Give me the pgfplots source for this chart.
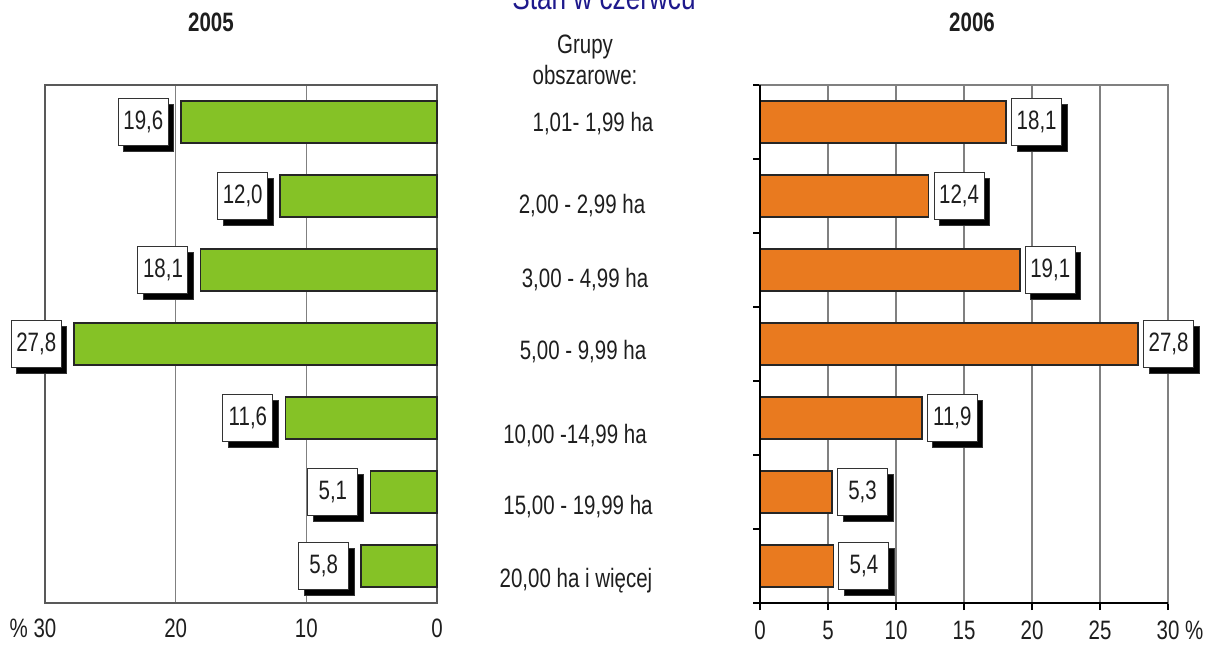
\documentclass[border=0pt]{standalone}
\usepackage{pgfplots}
\pgfplotsset{compat=1.18}
\usepackage{fontspec}
\setmainfont[FakeStretch=0.77]{Liberation Sans}
\usetikzlibrary{shadows}
\definecolor{bargreen}{RGB}{133,194,38}
\definecolor{barorange}{RGB}{233,122,31}
\definecolor{titleblue}{RGB}{30,25,140}
\definecolor{txt}{RGB}{30,30,30}
\newcommand{\lfont}{\fontsize{13.3}{15}\selectfont}
\tikzset{
 vbox/.style={draw=black!80, fill=white, line width=0.5pt, minimum width=25pt, minimum height=23.5pt, inner sep=1pt, font=\lfont, text=txt, drop shadow={shadow xshift=2.8pt, shadow yshift=-2.8pt, fill=black, opacity=1}},
}
\begin{document}
\begin{tikzpicture}
\path[use as bounding box] (0,0) rectangle (602.5pt,322pt);
\begin{axis}[
 at={(22.5pt,20.5pt)}, anchor=south west,
 scale only axis, width=196pt, height=259pt,
 xbar, bar width=0.57, bar shift=0pt,
 x dir=reverse, y dir=reverse,
 xmin=0, xmax=30, ymin=0.5, ymax=7.5,
 xtick={0,10,20,30}, xticklabels={0,10,20,\llap{\%\ }30},
 ytick=\empty,
 major tick length=0pt,
 xmajorgrids, major grid style={gray, line width=0.6pt},
 axis line style={black!65, line width=0.8pt},
 xticklabel style={font=\lfont, text=txt, yshift=-4.5pt},
 point meta=explicit symbolic,
 nodes near coords,
 clip=false,
]
\addplot[fill=bargreen, draw=black!85, line width=0.8pt, every node near coord/.append style={vbox, anchor=east, xshift=-6pt}] table[x=v,y=c,meta=l]{
v c l
19.6 1 19,6
12.0 2 12,0
18.1 3 18,1
27.8 4 27,8
11.6 5 11,6
5.1 6 5,1
5.8 7 5,8
};
\end{axis}
\begin{axis}[
 at={(380pt,20.5pt)}, anchor=south west,
 scale only axis, width=204pt, height=259pt,
 xbar, bar width=0.57, bar shift=0pt,
 y dir=reverse,
 xmin=0, xmax=30, ymin=0.5, ymax=7.5,
 xtick={0,5,10,15,20,25,30}, xticklabels={0,5,10,15,20,25,30\rlap{\ \%}},
 ytick={0.5,1.5,2.5,3.5,4.5,5.5,6.5,7.5}, yticklabels={},
 tick align=outside, major tick length=3.5pt,
 xtick pos=left, ytick pos=left,
 tick style={black, line width=0.6pt},
 xmajorgrids, major grid style={gray, line width=0.6pt},
 axis line style={gray, line width=0.6pt},
 xticklabel style={font=\lfont, text=txt, yshift=-2pt},
 point meta=explicit symbolic,
 nodes near coords,
 clip=false,
]
\addplot[fill=barorange, draw=black!85, line width=0.8pt, every node near coord/.append style={vbox, anchor=west, xshift=2.5pt}] table[x=v,y=c,meta=l]{
v c l
18.1 1 18,1
12.4 2 12,4
19.1 3 19,1
27.8 4 27,8
11.9 5 11,9
5.3 6 5,3
5.4 7 5,4
};
\draw[black, line width=0.8pt] ([xshift=-3.5pt]axis cs:0,7.5) -- (axis cs:30,7.5);
\draw[black, line width=0.8pt] (axis cs:0,0.5) -- (axis cs:0,7.5);
\end{axis}
\node[font=\bfseries\lfont, text=txt] at (105.5pt,311pt) {2005};
\node[font=\bfseries\lfont, text=txt] at (486pt,311pt) {2006};
\node[font=\fontsize{17}{19}\selectfont, text=titleblue, anchor=base] at (302pt,317pt) {Stan w czerwcu};
\begin{scope}[every node/.style={font=\lfont, text=txt}]
\node at (292.5pt,298.5pt) {Grupy};
\node at (292.5pt,284.5pt) {obszarowe:};
\node at (296.5pt,260pt) {1,01- 1,99 ha};
\node at (291pt,219pt) {2,00 - 2,99 ha};
\node at (292.5pt,182pt) {3,00 - 4,99 ha};
\node at (291.5pt,146pt) {5,00 - 9,99 ha};
\node at (287.5pt,104pt) {10,00 -14,99 ha};
\node at (289pt,68.5pt) {15,00 - 19,99 ha};
\node at (288pt,31.5pt) {20,00 ha i więcej};
\end{scope}
\end{tikzpicture}
\end{document}
